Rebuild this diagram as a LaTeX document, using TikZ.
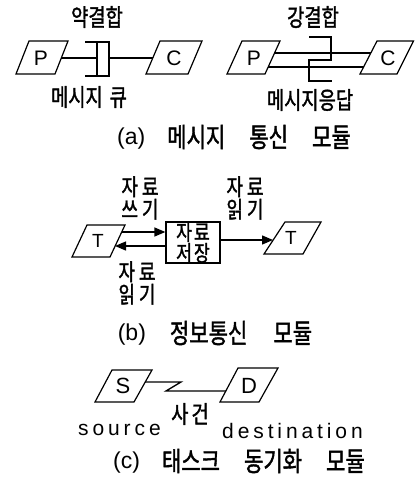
\documentclass[tikz,border=0pt]{standalone}
\usepackage{fontspec}
\setmainfont{Liberation Sans}
\newfontfamily\kr{Noto Sans CJK KR}[FakeStretch=0.78, FakeBold=1.5]
\newfontfamily\lat{Liberation Sans}
\usetikzlibrary{arrows.meta}
\def\spaced#1{\spacedloop#1\relax}
\def\spacedloop#1{\ifx#1\relax\else#1\kern3.9pt\expandafter\spacedloop\fi}
\newcommand\capl[1]{\raisebox{3pt}{\lat\fontsize{23}{23}\selectfont #1}}
\tikzset{
  ln/.style={line width=1.3pt},
  para/.style={line width=1.2pt, line join=miter},
  letter/.style={inner sep=0pt, font=\fontsize{21}{21}\selectfont},
  klabel/.style={inner sep=0pt, font=\kr\fontsize{24}{24}\selectfont, align=center},
  blabel/.style={inner sep=0pt, font=\kr\fontsize{23}{22.5}\selectfont, align=center},
  captext/.style={inner sep=0pt, font=\kr\fontsize{27}{28}\selectfont},
  latin/.style={inner sep=0pt, font=\fontsize{21}{21}\selectfont, anchor=base west},
  arr/.style={ln, -{Triangle[length=11pt,width=9pt]}}
}
\begin{document}
\begin{tikzpicture}[x=1pt,y=-1pt]
\useasboundingbox (0,0) rectangle (415,482);

% ---------- (a) weak coupling ----------
\node[klabel] (weak) at (97,17) {약결합};
\draw[para] (29,41) -- (68,41) -- (55,74) -- (16,74) -- cycle;
\node[letter] (p1) at (41,58) {P};
\draw[para] (160,41) -- (202,41) -- (188,74) -- (146,74) -- cycle;
\node[letter] (c1) at (174,58) {C};
% queue symbol
\coordinate (qL) at (97,58);
\coordinate (qR) at (109,58);
\draw[ln] (85,42) -- (109,42) -- (109,76) -- (85,76);
\draw[ln] (97,42) -- (97,76);
\coordinate (p1e) at (61,58);
\coordinate (c1w) at (153,58);
\draw[ln] (p1e) -- (qL);
\draw[ln] (qR) -- (c1w);
\node[klabel] (queue) at (89,97) {메시지\hspace{7pt}큐};

% ---------- (a) strong coupling ----------
\node[klabel] (strong) at (313,17) {강결합};
\draw[para] (242,41) -- (280,41) -- (265,74) -- (227,74) -- cycle;
\node[letter] (p2) at (254,58) {P};
\draw[para] (377,41) -- (413.5,41) -- (397,74) -- (360,74) -- cycle;
\node[letter] (c2) at (388,58) {C};
\coordinate (p2a) at (274.5,53);
\coordinate (c2a) at (371,53);
\coordinate (p2b) at (268,67);
\coordinate (c2b) at (363.5,67);
\draw[ln] (p2a) -- (c2a);
\draw[ln] (p2b) -- (c2b);
\draw[ln] (309,37) -- (331,37) -- (331,60) -- (309,60) -- (309,81) -- (332,81);
\node[klabel] (reply) at (310,100) {메시지응답};

\node[captext] (capa) at (234,137) {\capl{(a)}\hspace{22pt}메시지\hspace{24pt}통신\hspace{24pt}모듈};

% ---------- (b) ----------
\node[blabel] (write) at (140,198) {자\hspace{4pt}료\\쓰\hspace{4pt}기};
\node[blabel] (read1) at (245,198) {자\hspace{4pt}료\\읽\hspace{4pt}기};
\draw[para] (87,225) -- (125,225) -- (110,257) -- (72,257) -- cycle;
\node[letter, font=\fontsize{19}{19}\selectfont] (t1) at (98,241) {T};
\node[draw, ln, minimum width=54, minimum height=41, inner sep=0pt,
      font=\kr\fontsize{22}{18}\selectfont, align=center] (store) at (193,242.5)
      {자\hspace{2pt}료\\저\hspace{2pt}장};
\draw[para] (285,222) -- (321,222) -- (303,254) -- (264,254) -- cycle;
\node[letter, font=\fontsize{19}{19}\selectfont] (t2) at (291,238) {T};
\coordinate (t1a) at (122,232);
\coordinate (t1b) at (115,246);
\coordinate (t2w) at (273,240);
\draw[arr] (t1a) -- (store.west |- t1a);
\draw[arr] (store.west |- t1b) -- (t1b);
\draw[arr] (store.east |- t2w) -- (t2w);
\node[blabel] (read2) at (137,283) {자\hspace{4pt}료\\읽\hspace{4pt}기};

\node[captext] (capb) at (215,333) {\capl{(b)}\hspace{24pt}정보통신\hspace{26pt}모듈};

% ---------- (c) ----------
\draw[para] (112,370) -- (152,370) -- (134,402) -- (95,402) -- cycle;
\node[letter, font=\fontsize{22}{22}\selectfont] (s) at (123,386) {S};
\draw[para] (238,368) -- (278,368) -- (259,402) -- (220,402) -- cycle;
\node[letter, font=\fontsize{22}{22}\selectfont] (d) at (249,386) {D};
\coordinate (se) at (145,382);
\coordinate (dw) at (226,391);
\draw[ln] (se) -- (181,382) -- (166,391) -- (dw);
\node[klabel] (event) at (190,414) {사\hspace{3pt}건};
\node[latin] (src) at (78,435) {\spaced{source}};
\node[latin] (dst) at (222,438) {\spaced{destination}};

\node[captext] (capc) at (239,461) {\capl{(c)}\hspace{22pt}태스크\hspace{24pt}동기화\hspace{24pt}모듈};
\end{tikzpicture}
\end{document}
